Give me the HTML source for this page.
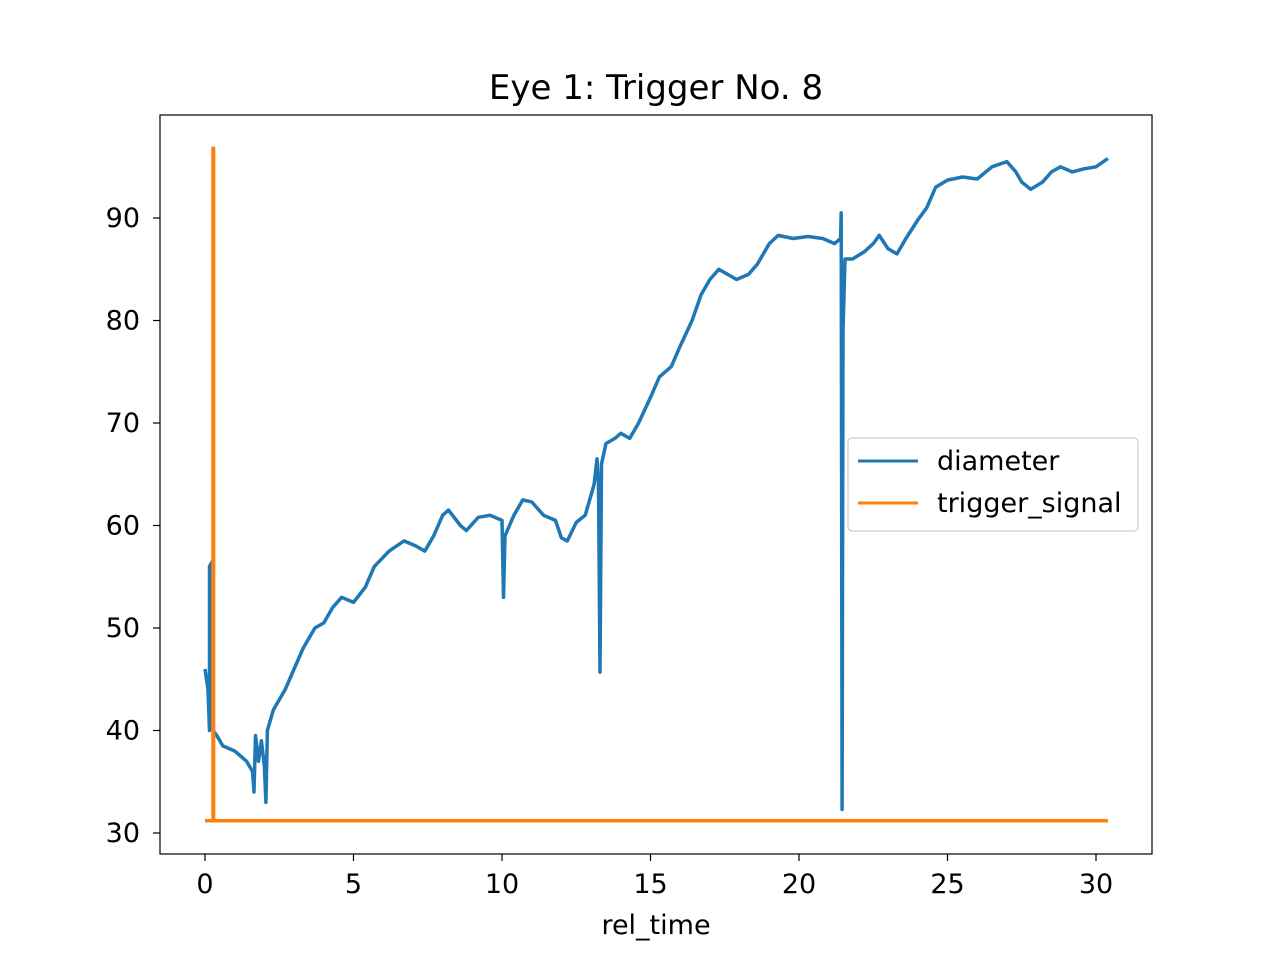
<!DOCTYPE html>
<html><head><meta charset="utf-8"><style>
body{margin:0;background:#fff}
svg text{font-family:"DejaVu Sans","Liberation Sans",sans-serif;fill:#000}
</style></head><body>
<svg id="chart" width="1280" height="960" xmlns="http://www.w3.org/2000/svg">
<rect width="1280" height="960" fill="#fff"/>
<text x="656" y="99" font-size="34" text-anchor="middle">Eye 1: Trigger No. 8</text>
<g id="plot"></g>
<rect x="160" y="115" width="992" height="739" fill="none" stroke="#000" stroke-width="1.2"/>
<g id="xticks"></g>
<g id="yticks"></g>
<text x="656" y="934" font-size="27" text-anchor="middle">rel_time</text>
<g>
<rect x="848" y="438" width="290" height="93" rx="4" fill="#fff" fill-opacity="0.8" stroke="#ccc" stroke-width="1.2"/>
<line x1="858" y1="461" x2="918" y2="461" stroke="#1f77b4" stroke-width="3"/>
<text x="937" y="470" font-size="27">diameter</text>
<line x1="858" y1="503" x2="918" y2="503" stroke="#ff7f0e" stroke-width="3"/>
<text x="937" y="512" font-size="27">trigger_signal</text>
</g>
</svg>
<script>
const xTicks=[0,5,10,15,20,25,30];
const yTicks=[30,40,50,60,70,80,90];
const diamT=[0,0.1,0.15,0.15,0.25,0.27,0.4,0.6,1.0,1.2,1.4,1.6,1.65,1.7,1.8,1.9,2.0,2.05,2.1,2.3,2.7,3.0,3.3,3.7,4.0,4.3,4.6,5.0,5.4,5.7,6.2,6.7,7.1,7.4,7.7,8.0,8.2,8.6,8.8,9.2,9.6,10.0,10.05,10.1,10.4,10.7,11.0,11.4,11.8,12.0,12.2,12.5,12.8,13.1,13.2,13.25,13.3,13.35,13.5,13.8,14.0,14.3,14.6,15.0,15.3,15.7,16.0,16.4,16.7,17.0,17.3,17.6,17.9,18.3,18.6,19.0,19.3,19.8,20.3,20.8,21.2,21.4,21.42,21.45,21.48,21.55,21.8,22.2,22.5,22.7,23.0,23.3,23.6,24.0,24.3,24.6,25.0,25.5,26.0,26.5,27.0,27.3,27.5,27.8,28.2,28.5,28.8,29.2,29.6,30.0,30.4];
const diamV=[46,44,40,56,56.5,40,39.5,38.5,38,37.5,37,36,34,39.5,37,39,36.5,33,40,42,44,46,48,50,50.5,52,53,52.5,54,56,57.5,58.5,58,57.5,59,61,61.5,60,59.5,60.8,61,60.5,53,59,61,62.5,62.3,61,60.5,58.8,58.5,60.3,61,64,66.5,64,45.7,66,68,68.5,69,68.5,70,72.5,74.5,75.5,77.5,80,82.5,84,85,84.5,84,84.5,85.5,87.5,88.3,88,88.2,88,87.5,88,90.5,32.3,79,86,86,86.7,87.5,88.3,87,86.5,88,89.8,91,93,93.7,94,93.8,95,95.5,94.5,93.5,92.8,93.5,94.5,95,94.5,94.8,95,95.8];
const trigT=[0,0.27,0.27,0.29,0.29,30.4];
const trigV=[31.2,31.2,96.8,96.8,31.2,31.2];
const NS='http://www.w3.org/2000/svg';
const xs=t=>205+t*(1096-205)/30;
const ys=v=>833-(v-30)*(833-218)/60;
function mk(tag,attrs,parent){const e=document.createElementNS(NS,tag);for(const k in attrs)e.setAttribute(k,attrs[k]);parent.appendChild(e);return e;}
const xg=document.getElementById('xticks'),yg=document.getElementById('yticks'),pg=document.getElementById('plot');
xTicks.forEach(t=>{const x=xs(t);
 const l=mk('line',{x1:x,x2:x,y1:854,y2:861,stroke:'#000','stroke-width':1.2},xg);
 
 
 const tx=mk('text',{x:x,y:893,'font-size':27,'text-anchor':'middle'},xg);tx.textContent=t;
 
 });
yTicks.forEach(v=>{const y=ys(v);
 const l=mk('line',{x1:153,x2:160,y1:y,y2:y,stroke:'#000','stroke-width':1.2},yg);
 
 
 const tx=mk('text',{x:140,y:y+9,'font-size':27,'text-anchor':'end'},yg);tx.textContent=v;
 
 });
function path(T,V,color,name){const d=T.map((t,i)=>(i?'L':'M')+xs(t).toFixed(1)+','+ys(V[i]).toFixed(1)).join('');
 const p=mk('path',{d:d,fill:'none',stroke:color,'stroke-width':3.5,'stroke-linejoin':'round'},pg);
 
 }
path(diamT,diamV,'#1f77b4','diameter-line');
path(trigT,trigV,'#ff7f0e','trigger-signal-line');
</script>
</body></html>
